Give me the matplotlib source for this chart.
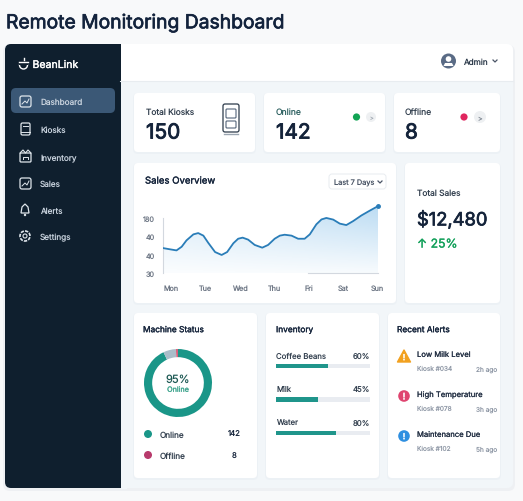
import numpy as np
import matplotlib
matplotlib.use('Agg')
import matplotlib.pyplot as plt
import matplotlib.patheffects as pe
from matplotlib.patches import FancyBboxPatch, Circle, Polygon, Rectangle

plt.rcParams['font.family'] = ['Inter', 'DejaVu Sans']
plt.rcParams['text.hinting'] = 'no_hinting'

W, H = 523, 502

# chart data (levels are tick positions, the tick labels are uneven)
days = ['Mon', 'Tue', 'Wed', 'Thu', 'Fri', 'Sat', 'Sun']
y_tick_labels = ['30', '40', '40', '180']
sales_x = [-0.24, -0.03, 0.16, 0.31, 0.45, 0.65, 0.79, 0.94, 1.08, 1.28, 1.47, 1.63,
           1.81, 1.95, 2.08, 2.24, 2.43, 2.65, 2.82, 3.01, 3.16, 3.30, 3.50, 3.69,
           3.88, 4.03, 4.22, 4.37, 4.51, 4.71, 4.90, 5.09, 5.29, 5.53, 5.77, 6.01]
sales_y = [1.37, 1.30, 1.24, 1.44, 1.79, 2.12, 2.19, 2.05, 1.66, 1.15, 0.99, 1.15,
           1.63, 1.88, 1.94, 1.83, 1.54, 1.39, 1.54, 1.88, 2.05, 2.10, 2.05, 1.88,
           1.88, 2.12, 2.67, 2.94, 3.02, 2.93, 2.71, 2.63, 2.85, 3.16, 3.42, 3.67]
donut_values = [93, 6, 1]
inventory_items = ['Coffee Beans', 'Milk', 'Water']
inventory_labels = ['60%', '45%', '80%']
inventory_fill = [55, 45, 64]
nav_items = ['Dashboard', 'Kiosks', 'Inventory', 'Sales', 'Alerts', 'Settings']
alert_titles = ['Low Milk Level', 'High Temperature', 'Maintenance Due']
alert_kiosks = ['Kiosk #034', 'Kiosk #078', 'Kiosk #102']
alert_times = ['2h ago', '3h ago', '5h ago']

DARK = '#14233a'
GREY = '#8f98a6'
TEAL = '#1a9688'
ICON = '#dfe6ec'

fig = plt.figure(figsize=(W / 100, H / 100), dpi=100, facecolor='#f8f9fa')
bg = fig.add_axes([0, 0, 1, 1])
bg.set_xlim(0, W)
bg.set_ylim(H, 0)
bg.axis('off')


def px_axes(x0, y0, x1, y1):
    return fig.add_axes([x0 / W, 1 - y1 / H, (x1 - x0) / W, (y1 - y0) / H])


def box(x0, y0, x1, y1, color, r=4, **kw):
    p = FancyBboxPatch((x0 + r, y0 + r), x1 - x0 - 2 * r, y1 - y0 - 2 * r,
                       boxstyle='round,pad=%g,rounding_size=%g' % (r, r),
                       fc=color, ec=kw.pop('ec', 'none'), lw=kw.pop('lw', 0), **kw)
    bg.add_patch(p)
    return p


def label(x, y, s, size=6.5, color=DARK, heavy=0, ha='left', **kw):
    # heavy is a stroke width, the installed fonts only give regular weights
    t = bg.text(x, y, s, fontsize=size, color=color, ha=ha, va='center_baseline', **kw)
    if heavy:
        t.set_path_effects([pe.withStroke(linewidth=heavy, foreground=color)])


def card(x0, y0, x1, y1):
    box(x0 - 1, y0, x1 + 1, y1 + 2, '#e9eef3', r=5, alpha=0.6)
    box(x0, y0, x1, y1, 'white', r=4)


def chevron(x, y, s=2, color='#4a5566'):
    bg.plot([x - s, x, x + s], [y - s / 2, y + s / 2, y - s / 2], color=color, lw=0.9)


label(6, 22, 'Remote Monitoring Dashboard', size=13.9, heavy=0.5, color='#13233c')

# main panel
box(3, 46, 515, 492, '#e8ebef', r=7, alpha=0.6)
box(5, 45, 513, 489, '#f2f6f9', r=6)
box(100, 45, 513, 82, 'white', r=6)
bg.add_patch(Rectangle((110, 76), 403, 6, fc='white', lw=0))
bg.plot([120, 513], [82, 82], color='#e8ecf0', lw=0.8)
box(5, 45, 125, 489, '#0f1f2e', r=6)
bg.add_patch(Rectangle((110, 45), 10.5, 444, fc='#0f1f2e', lw=0))
bg.add_patch(Rectangle((120.5, 45), 6, 37, fc='white', lw=0, zorder=1))
bg.add_patch(Rectangle((120.5, 82.5), 6, 407, fc='#f2f6f9', lw=0, zorder=1))

# sidebar
bg.add_patch(Circle((23.5, 66), 4, fc='none', ec='white', lw=1))
bg.add_patch(Rectangle((19, 61), 9, 5, fc='#0f1f2e', lw=0, zorder=3))
bg.plot([19, 28], [62.5, 62.5], color='white', lw=1, zorder=4)
bg.plot([23.5, 23.5], [59, 61], color='white', lw=1, zorder=4)
label(32.5, 65, 'BeanLink', size=7.6, color='white', heavy=0.25)
box(11, 89, 115, 114, '#3b5876', r=5)
nav_y = [102, 130, 157, 184, 211, 237]
for i, (name, y) in enumerate(zip(nav_items, nav_y)):
    label(40, y, name, size=5.9, color='#c9d3de')
    if i == 4:
        bg.add_patch(Polygon([[25, y - 6], [28, y - 3], [29, y + 3], [21, y + 3], [22, y - 3]],
                             fc='none', ec=ICON, lw=0.9))
        bg.add_patch(Circle((25, y + 5), 1.2, fc=ICON, lw=0))
    elif i == 5:
        bg.add_patch(Circle((25, y), 5, fc='none', ec=ICON, lw=1.2, ls=(0, (2, 0.7))))
        bg.add_patch(Circle((25, y), 2, fc='none', ec=ICON, lw=0.8))
    elif i == 1:
        box(21, y - 6, 30, y + 6, 'none', r=1.5, ec=ICON, lw=0.9)
        bg.plot([23, 28], [y - 3, y - 3], color=ICON, lw=0.7)
        bg.plot([21, 30], [y + 3, y + 3], color=ICON, lw=0.7)
    elif i == 2:
        box(20, y - 3, 31, y + 6, 'none', r=1, ec=ICON, lw=0.9)
        bg.plot([20, 23, 25.5, 28, 31], [y - 3, y - 6, y - 3, y - 6, y - 3], color=ICON, lw=0.8)
        bg.plot([23, 23, 28, 28], [y + 3, y + 1, y + 1, y + 3], color=ICON, lw=0.7)
    else:
        box(20, y - 5, 31, y + 6, 'none', r=2, ec=ICON, lw=0.9)
        bg.plot([22, 25, 27, 29], [y + 3, y, y + 2, y - 2], color=ICON, lw=0.7)

# header
bg.add_patch(Circle((448.5, 62), 7.5, fc='#5a6b85', lw=0))
bg.add_patch(Circle((448.5, 60), 2.8, fc='white', lw=0))
bg.add_patch(Polygon([[443.5, 67], [445, 64], [452, 64], [453.5, 67]], fc='white', lw=0))
label(463, 62, 'Admin', size=5.9, color='#2c3a4a')
chevron(495, 62)

# top cards
card(134, 94, 255, 153)
card(264, 94, 385, 153)
card(394, 94, 500, 153)
label(146, 112, 'Total Kiosks', size=6.0, color='#33404f')
label(146, 132, '150', size=15, heavy=0.6)
box(223, 105, 239, 133, 'none', r=2, ec='#2c3a4a', lw=0.9)
box(226, 110, 236, 119, 'none', r=1, ec='#55657a', lw=0.8)
box(226, 122, 236, 129, 'none', r=1, ec='#55657a', lw=0.8)
bg.plot([224, 238], [135, 135], color='#9aa5b1', lw=1)
label(276, 112, 'Online', size=6.2, color='#2b5f5f')
label(276, 132, '142', size=15, heavy=0.6)
bg.add_patch(Circle((356.5, 118), 3.6, fc='#12a454', lw=0))
bg.add_patch(Circle((371, 118), 5, fc='#eef0f2', lw=0))
label(371, 118, '>', size=4, color='#a0a8b2', ha='center')
label(405, 112, 'Offline', size=6.2, color='#33404f')
label(405, 132, '8', size=15, heavy=0.6)
bg.add_patch(Circle((464, 118), 3.6, fc='#e0265f', lw=0))
bg.add_patch(Circle((480, 118), 6, fc='#eef0f2', lw=0))
label(480, 118, '>', size=5, color='#7c8590', ha='center')

# sales overview card
card(134, 164, 396, 304)
label(145, 181, 'Sales Overview', size=6.9, heavy=0.2)
box(329, 175, 386, 190, 'white', r=3, ec='#e8ecf0', lw=0.7)
label(334, 183, 'Last 7 Days', size=5.3, color='#4a5566')
chevron(380, 183)

ax = px_axes(163, 200, 378, 274)
ax.patch.set_alpha(0)
poly = ax.fill_between(sales_x, sales_y, 0, color='none')
shade = np.zeros((64, 64, 4))
shade[..., :3] = matplotlib.colors.to_rgb('#9fcdee')
shade[..., 3] = (np.linspace(0.7, 0.08, 64)[:, None]
                 * np.linspace(0.55, 1.0, 64)[None, :])
im = ax.imshow(shade, extent=[-0.232, 6.01, 0, 3.67], aspect='auto', origin='upper', zorder=1)
im.set_clip_path(poly.get_paths()[0], transform=ax.transData)
ax.plot(sales_x, sales_y, color='#2a7db8', lw=1.3, zorder=3)
ax.plot(sales_x[-1], sales_y[-1], 'o', color='#2a7db8', ms=2.5, zorder=3, clip_on=False)
ax.set_xlim(-0.232, 6.01)
ax.set_ylim(0, 4.06)
ax.set_xticks(range(len(days)))
ax.set_xticklabels(days)
ax.set_yticks(range(len(y_tick_labels)))
ax.set_yticklabels(y_tick_labels)
ax.tick_params(axis='both', length=0, labelsize=5.2, labelcolor='#6f7886')
ax.tick_params(axis='x', pad=8)
ax.tick_params(axis='y', pad=6)
for s in ['top', 'right']:
    ax.spines[s].set_visible(False)
ax.spines['left'].set_bounds(0, 3)
ax.spines['left'].set_color('#d3d8df')
ax.spines['bottom'].set_bounds(3.97, 6.01)
ax.spines['bottom'].set_color('#d3d8df')

# total sales card
card(405, 164, 500, 304)
label(417, 193, 'Total Sales', size=6.0, color='#33404f')
label(417, 219, '$12,480', size=13.2, heavy=0.5)
label(417, 244, '\u2191 25%', size=8.8, color='#12a05a', heavy=0.2)

# machine status
card(134, 314, 257, 479)
label(143, 330, 'Machine Status', size=6.0, heavy=0.2)
dax = px_axes(144, 350, 212, 418)
dax.pie(donut_values, colors=[TEAL, '#a9bdc9', '#d9607c'], startangle=90, counterclock=False,
        radius=1.0, wedgeprops=dict(width=0.24, lw=0))
dax.set_xlim(-1, 1)
dax.set_ylim(-1, 1)
label(178, 379, '95%', size=8, color='#1f5a55', ha='center')
label(178, 390, 'Online', size=5.2, color='#3fa58e', ha='center', heavy=0.15)
bg.add_patch(Circle((148, 435), 4, fc=TEAL, lw=0))
bg.add_patch(Circle((148, 456), 4, fc='#b83a6c', lw=0))
label(160, 435, 'Online', size=5.9, color='#33404f')
label(160, 456, 'Offline', size=5.9, color='#33404f')
label(234, 433, '142', size=5.6, ha='center')
label(234.5, 455, '8', size=5.6, ha='center')

# inventory
card(266, 314, 379, 479)
label(276, 330, 'Inventory', size=6.0, heavy=0.2)
iax = px_axes(276, 360, 370, 441)
pos = np.arange(len(inventory_items))
iax.barh(pos, [100] * len(pos), height=0.13, color='#e9ecf1')
iax.barh(pos, inventory_fill, height=0.13, color='#1f958b')
iax.set_xlim(0, 100)
iax.set_ylim(2.2, -0.2)
iax.axis('off')
for name, pct, y in zip(inventory_items, inventory_labels, [356, 389, 423]):
    label(276, y, name, size=5.6, color='#33404f')
    label(370, y, pct, size=5.6, color='#33404f', ha='right')

# alerts
card(388, 314, 500, 479)
label(397, 330, 'Recent Alerts', size=6.0, heavy=0.2)
for title, kiosk, ago, y in zip(alert_titles, alert_kiosks, alert_times, [355, 395, 435]):
    label(417, y, title, size=5.5, color='#1f2c40', heavy=0.1)
    label(417, y + 13.5, kiosk, size=4.7, color=GREY)
    label(497, y + 14, ago, size=4.7, color=GREY, ha='right')
bg.add_patch(Polygon([[404, 351], [410.5, 363], [397.5, 363]], fc='#f2a11f', ec='#f2a11f', lw=1, joinstyle='round'))
bg.add_patch(Circle((404, 397), 5.8, fc='#df4570', lw=0))
bg.add_patch(Circle((404, 437), 5.8, fc='#2f8fe0', lw=0))
label(404, 358, '!', size=6, color='white', ha='center', heavy=0.3)
label(404, 397, '!', size=6.5, color='white', ha='center', heavy=0.3)
label(404, 437, '!', size=6, color='white', ha='center', heavy=0.3)

fig.savefig('out.png', dpi=100)
